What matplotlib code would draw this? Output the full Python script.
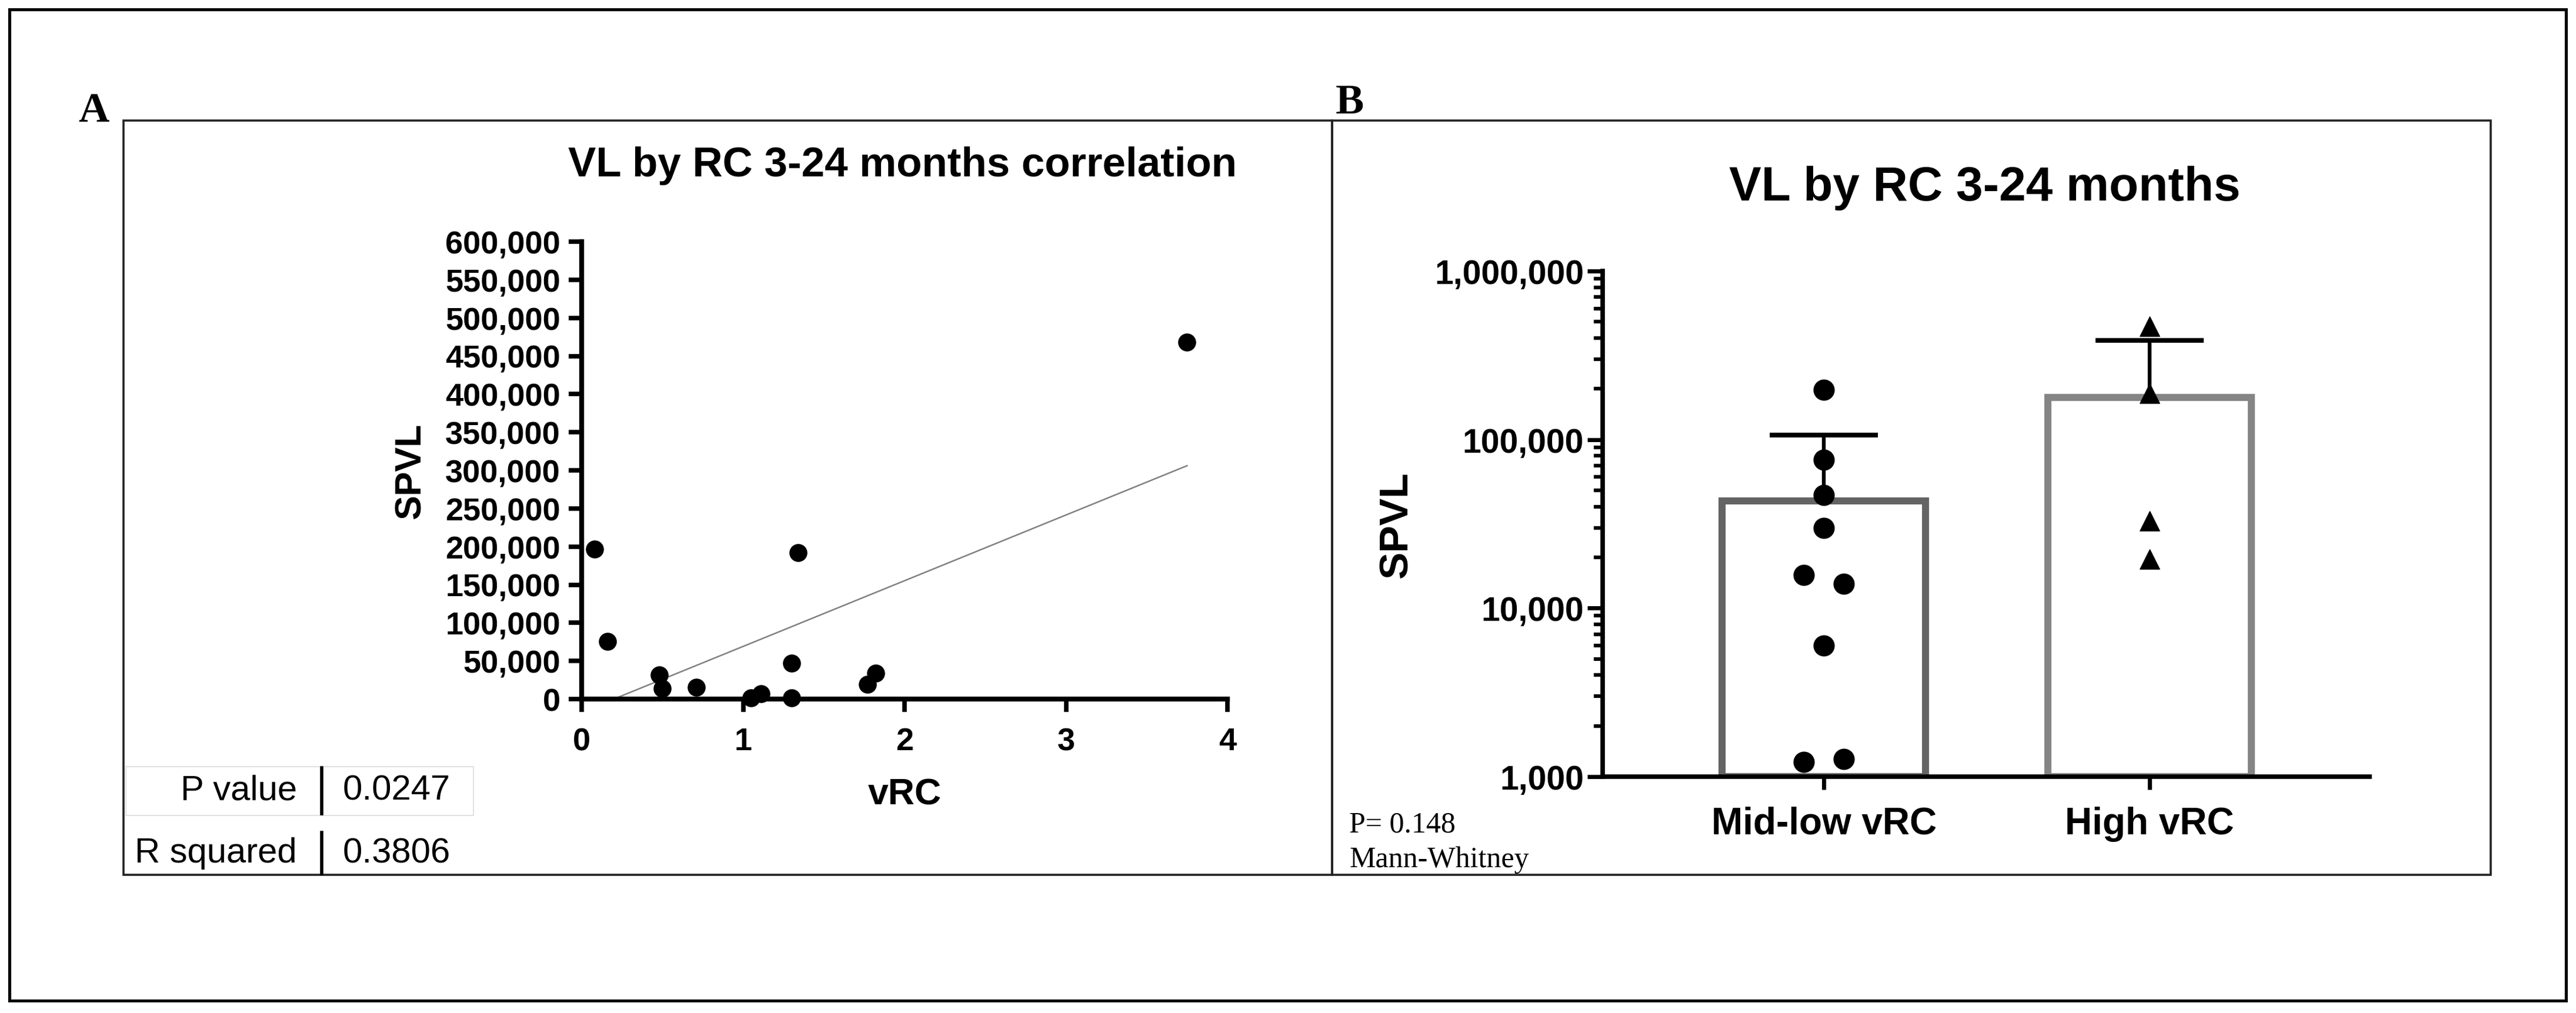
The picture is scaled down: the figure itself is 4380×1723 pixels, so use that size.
import numpy as np
import matplotlib
matplotlib.use("Agg")
import matplotlib.pyplot as plt
from matplotlib.patches import Rectangle
from matplotlib.lines import Line2D
from matplotlib.ticker import FuncFormatter, LogLocator, MultipleLocator

plt.rcParams["font.family"] = ["Liberation Sans", "DejaVu Sans"]

# panel A: scatter of SPVL against vRC
vrc = [0.08, 0.16, 0.48, 0.50, 0.71, 1.05, 1.11, 1.30, 1.30, 1.34, 1.77, 1.82, 3.75]
spvl_a = [197000, 75700, 31400, 13700, 15500, 1200, 6600, 46900, 1300,
          191700, 19000, 33700, 468000]
stat_names = ["P value", "R squared"]
stat_values = ["0.0247", "0.3806"]

# panel B: SPVL by vRC group
groups = ["Mid-low vRC", "High vRC"]
midlow = [198000, 76000, 47000, 30000, 15700, 13900, 6000, 1220, 1270]
high = [469000, 188000, 32800, 19500]
test_note = ["P= 0.148", "Mann-Whitney"]

W, H = 4380, 1724
GREY_LINE = "#808080"


def fx(x):
    return x / W


def fy(y):
    return 1 - y / H


def box(fig, x0, y0, x1, y1, lw, color="black"):
    fig.add_artist(Rectangle((fx(x0), fy(y1)), (x1 - x0) / W, (y1 - y0) / H,
                             transform=fig.transFigure, fill=False, lw=lw,
                             edgecolor=color))


def vline(fig, x, y0, y1, lw, color="black"):
    fig.add_artist(Line2D([fx(x), fx(x)], [fy(y0), fy(y1)],
                          transform=fig.transFigure, lw=lw, color=color))


def axes_px(fig, x0, y0, x1, y1):
    return fig.add_axes([fx(x0), fy(y1), (x1 - x0) / W, (y1 - y0) / H])


comma = FuncFormatter(lambda v, _: f"{v:,.0f}")

fig = plt.figure(figsize=(W / 100, H / 100), dpi=100)

# frames
box(fig, 16, 17, 4363, 1703, 3.6)
box(fig, 210, 206, 2265, 1489, 2.6, "#222222")
box(fig, 2265, 206, 4235, 1489, 2.6, "#222222")
fig.text(fx(159), fy(207), "A", family="Liberation Serif", weight="bold",
         fontsize=52, ha="center", va="baseline")
fig.text(fx(2295), fy(193), "B", family="Liberation Serif", weight="bold",
         fontsize=52, ha="center", va="baseline")

# ---- panel A
ax = axes_px(fig, 989, 412, 2087, 1190)
ax.scatter(vrc, spvl_a, s=21 ** 2, color="black", zorder=3, clip_on=False)
slope, icpt = np.polyfit(vrc, spvl_a, 1)
xs = np.array([min(vrc), max(vrc)])
ax.plot(xs, slope * xs + icpt, color=GREY_LINE, lw=1.8, zorder=2)
ax.set_xlim(0, 4)
ax.set_ylim(0, 600000)
ax.xaxis.set_major_locator(MultipleLocator(1))
ax.yaxis.set_major_locator(MultipleLocator(50000))
ax.yaxis.set_major_formatter(comma)
for s in ("top", "right"):
    ax.spines[s].set_visible(False)
for s in ("left", "bottom"):
    ax.spines[s].set_linewidth(6)
ax.tick_params(axis="both", direction="out", length=16, width=5.5, labelsize=39)
ax.tick_params(axis="y", pad=10)
ax.tick_params(axis="x", pad=18)
for lab in ax.get_xticklabels() + ax.get_yticklabels():
    lab.set_fontweight("bold")
ax.set_ylabel("SPVL", fontsize=45, fontweight="bold", va="center")
ax.yaxis.set_label_coords(-0.265, 0.5)
ax.set_xlabel("vRC", fontsize=45, fontweight="bold", va="center")
ax.xaxis.set_label_coords(0.5, -0.208)
fig.text(fx(1534), fy(282), "VL by RC 3-24 months correlation", weight="bold",
         fontsize=51, ha="center", va="center")

# stats table
box(fig, 214, 1305, 805, 1388, 1.5, "#e2e2e2")
vline(fig, 547, 1307, 1385, 4)
vline(fig, 547, 1417, 1487, 4)
for (name, val), yc in zip(zip(stat_names, stat_values), (1345, 1452)):
    fig.text(fx(505), fy(yc), name, fontsize=43, ha="right", va="center")
    fig.text(fx(583), fy(yc), val, fontsize=43, ha="left", va="center")

# ---- panel B
bx = axes_px(fig, 2725, 462, 4029, 1322)
pos = np.arange(len(groups))
vals = [np.array(midlow), np.array(high)]
means = np.array([v.mean() for v in vals])
sds = np.array([v.std(ddof=1) for v in vals])
bx.set_yscale("log")
bx.set_ylim(1e3, 1e6)
bx.set_xlim(-0.679, 1.675)
bx.bar(pos, means - 1e3, bottom=1e3, width=0.625, color="white",
       edgecolor=["#646464", "#858585"], lw=8.6, zorder=2)
# mean + SD, upper side only
_, caps, _ = bx.errorbar(pos, means, yerr=[np.zeros_like(sds), sds], fmt="none",
                         ecolor="black", elinewidth=4.6, capsize=66,
                         capthick=5.8, zorder=3)
caps[0].set_visible(False)
ml_dx = [0, 0, 0, 0, -0.062, 0.062, 0, -0.062, 0.062]
bx.scatter(pos[0] + np.array(ml_dx), midlow, s=25 ** 2, marker="o",
           color="black", zorder=4, clip_on=False)
bx.scatter(np.full(len(high), pos[1]), high, s=24 ** 2, marker="^",
           color="black", zorder=4, clip_on=False)
for s in ("top", "right"):
    bx.spines[s].set_visible(False)
for s in ("left", "bottom"):
    bx.spines[s].set_linewidth(5.5)
bx.yaxis.set_major_locator(LogLocator(base=10, numticks=10))
bx.yaxis.set_minor_locator(LogLocator(base=10, subs=np.arange(2, 10), numticks=10))
bx.yaxis.set_major_formatter(comma)
bx.yaxis.set_minor_formatter(FuncFormatter(lambda v, _: ""))
bx.set_xticks(pos)
bx.set_xticklabels(groups, fontsize=46, fontweight="bold")
bx.tick_params(axis="y", which="major", direction="out", length=19, width=5,
               labelsize=41, pad=4)
for lab in bx.get_yticklabels():
    lab.set_fontweight("bold")
bx.tick_params(axis="y", which="minor", direction="out", length=11, width=4.5)
bx.tick_params(axis="x", direction="out", length=16, width=5, pad=20)
bx.set_ylabel("SPVL", fontsize=50, fontweight="bold", va="center")
bx.yaxis.set_label_coords(-0.269, 0.5)
fig.text(fx(3375), fy(320), "VL by RC 3-24 months", weight="bold",
         fontsize=59, ha="center", va="center")
for txt, yc in zip(test_note, (1403, 1463)):
    fig.text(fx(2294), fy(yc), txt, family="Liberation Serif", fontsize=36,
             ha="left", va="center")

fig.savefig("out.png", dpi=100)
